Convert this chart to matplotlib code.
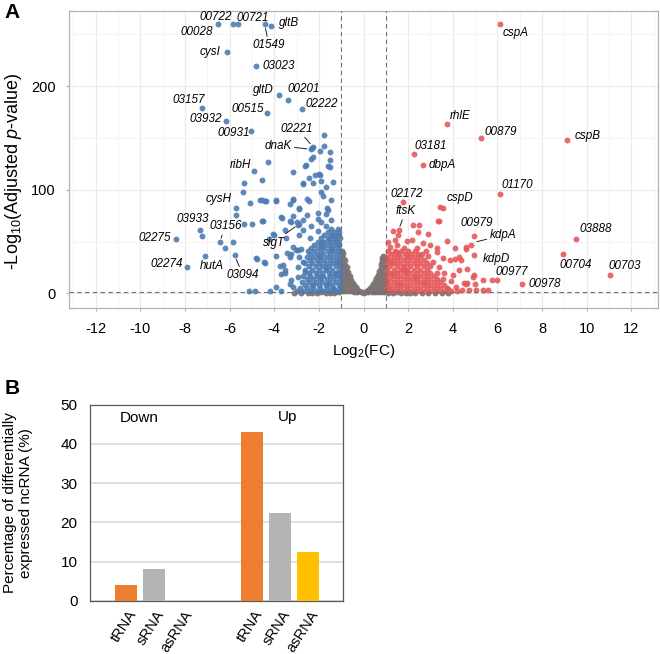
import numpy as np
import matplotlib
matplotlib.use('Agg')
import matplotlib.pyplot as plt
import matplotlib.transforms as mtransforms
from matplotlib.ticker import MultipleLocator

plt.rcParams['font.family'] = ['Liberation Sans', 'DejaVu Sans']
plt.rcParams['mathtext.fontset'] = 'custom'
plt.rcParams['mathtext.rm'] = 'Liberation Sans'
plt.rcParams['mathtext.it'] = 'Liberation Sans:italic'
plt.rcParams['mathtext.bf'] = 'Liberation Sans:bold'
plt.rcParams['axes.unicode_minus'] = False

# ---------------- Panel A data (log2FC, -log10 adj p) ----------------
down_pts = [
    (-6.52, 259.6), (-5.85, 259.6), (-5.63, 259.6), (-4.43, 259.6), (-4.13, 258.3),
    (-6.12, 233), (-4.8, 219), (-3.79, 191), (-3.39, 187), (-2.76, 178), (-7.24, 179),
    (-4.31, 174), (-6.15, 166.5), (-5.06, 156.5), (-2.31, 140), (-2.27, 141.5), (-1.75, 153),
    (-5.36, 107), (-5.39, 98), (-4.91, 118), (-4.27, 127), (-5.73, 82), (-5.72, 76),
    (-5.07, 87), (-4.57, 90), (-4.39, 89), (-3.93, 90), (-4.55, 109), (-3.69, 74),
    (-3.17, 90), (-2.87, 82), (-2.72, 107), (-2.27, 107),
    (-7.34, 61.5), (-7.24, 55), (-6.45, 49.6), (-6.19, 44), (-5.85, 49.6), (-5.36, 66.7),
    (-4.98, 67.3), (-4.51, 69.6), (-4.24, 52.5), (-4.03, 56.7), (-3.51, 60.9), (-3.26, 68.9),
    (-3.17, 74.4), (-2.97, 68.9), (-8.39, 52.5), (-7.93, 25.4), (-7.09, 36), (-5.78, 36.7),
    (-4.76, 33.5), (-4.46, 30.3), (-3.91, 35.7), (-3.61, 27), (-3.51, 22.2), (-3.31, 35.1),
    (-3.17, 44.7), (-2.94, 42.2), (-2.91, 66.7),
    (-5.13, 2.5), (-4.88, 2.5), (-4.21, 2), (-3.91, 6), (-3.69, 2), (-3.17, 6),
    (-3.17, 116.9), (-2.6, 123), (-2.27, 131.7), (-1.97, 137.2), (-2.34, 130), (-2.19, 114),
    (-1.75, 142.3), (-1.52, 136.5), (-1.52, 128.5), (-1.52, 122), (-1.97, 114),
    (-1.67, 102.7), (-1.37, 107.5), (-2.34, 139.8), (-1.57, 123), (-2.57, 123.7),
    (-2.0, 115.6), (-2.45, 111.8), (-1.89, 108.2), (-2.69, 106), (-1.89, 97.9), (-1.82, 93.7),
    (-1.45, 89.9), (-2.54, 90.8), (-2.45, 89.2), (-3.17, 91.1), (-3.91, 89.2), (-4.66, 89.9),
    (-4.43, 89.2), (-1.64, 82.8), (-1.57, 80.9), (-3.31, 86), (-2.9, 81.8), (-2.05, 77.6),
    (-1.7, 76.3), (-2.52, 76), (-3.67, 72.8), (-3.31, 69.9), (-2.72, 70.5), (-2.05, 72.2),
    (-1.89, 68.9), (-1.45, 70.5), (-4.54, 69.6), (-2.94, 65.7), (-2.34, 64.7), (-1.7, 64.7),
    (-2.72, 61.5), (-2.05, 59.9), (-4.06, 57), (-2.87, 56.7), (-1.37, 56), (-1.15, 56),
    (-2.42, 53.8), (-3.46, 53.1), (-1.25, 51.2), (-1.85, 49.6),
    (-2.79, 42.5), (-3.01, 42.2), (-3.24, 38.3), (-3.42, 39.3), (-4.81, 34.5), (-4.43, 29.6),
    (-3.76, 26.4), (-3.54, 20), (-3.69, 19), (-3.24, 13.2), (-3.31, 9.4), (-2.94, 15.8),
    (-2.64, 20.6), (-2.94, 25.4), (-2.72, 30.3), (-2.87, 35.1),
    # dense cloud
    (-1.45, 62), (-1.15, 62), (-1.6, 59), (-1.3, 59), (-1.08, 59),
    (-1.75, 56), (-1.45, 56), (-1.2, 56), (-1.9, 53), (-1.6, 53), (-1.3, 53), (-1.05, 53),
    (-2.05, 50), (-1.75, 50), (-1.45, 50), (-1.15, 50),
    (-2.2, 47), (-1.9, 47), (-1.6, 47), (-1.3, 47), (-1.08, 47),
    (-2.35, 44), (-2.05, 44), (-1.75, 44), (-1.45, 44), (-1.15, 44),
    (-2.5, 41), (-2.2, 41), (-1.9, 41), (-1.6, 41), (-1.3, 41), (-1.05, 41),
    (-2.4, 38), (-2.1, 38), (-1.8, 38), (-1.5, 38), (-1.2, 38),
    (-2.55, 35), (-2.25, 35), (-1.95, 35), (-1.65, 35), (-1.35, 35), (-1.08, 35),
    (-2.4, 32), (-2.1, 32), (-1.8, 32), (-1.5, 32), (-1.2, 32),
    (-2.6, 29), (-2.3, 29), (-2.0, 29), (-1.7, 29), (-1.4, 29), (-1.1, 29),
    (-2.45, 26), (-2.15, 26), (-1.85, 26), (-1.55, 26), (-1.25, 26), (-1.03, 26),
    (-2.6, 23), (-2.3, 23), (-2.0, 23), (-1.7, 23), (-1.4, 23), (-1.12, 23),
    (-2.45, 20), (-2.15, 20), (-1.85, 20), (-1.55, 20), (-1.25, 20), (-1.03, 20),
    (-2.7, 17), (-2.4, 17), (-2.1, 17), (-1.8, 17), (-1.5, 17), (-1.2, 17),
    (-2.55, 14), (-2.25, 14), (-1.95, 14), (-1.65, 14), (-1.35, 14), (-1.06, 14),
    (-2.75, 11), (-2.45, 11), (-2.15, 11), (-1.85, 11), (-1.55, 11), (-1.25, 11),
    (-2.6, 8), (-2.3, 8), (-2.0, 8), (-1.7, 8), (-1.4, 8), (-1.1, 8),
    (-2.85, 5), (-2.55, 5), (-2.25, 5), (-1.95, 5), (-1.65, 5), (-1.35, 5), (-1.05, 5),
    (-3.0, 2.5), (-2.7, 2.5), (-2.4, 2.5), (-2.1, 2.5), (-1.8, 2.5), (-1.5, 2.5), (-1.2, 2.5),
    (-1.3, 3.8), (-1.62, 9.5), (-1.92, 15.5), (-1.28, 18.5), (-1.7, 24.5), (-1.22, 30.5),
    (-1.98, 36.5), (-1.4, 42.5), (-1.88, 45.5), (-1.2, 48.5), (-1.55, 51.5), (-2.25, 8.5),
]

up_pts = [
    (6.1, 259.6), (3.75, 163.6), (5.27, 149.8), (9.14, 148), (2.28, 134.6), (2.67, 124),
    (6.12, 96.3), (1.76, 88), (3.55, 82.8), (3.36, 70.2), (4.94, 55), (4.82, 47),
    (4.6, 43.2), (4.94, 36.7), (4.3, 35.1), (4.08, 33.5), (9.54, 52.5), (8.93, 38.3),
    (11.05, 17.4), (7.1, 9), (5.99, 13.2), (5.76, 12.6), (5.34, 13.2), (4.97, 17.4),
    (4.6, 9.4), (4.65, 10.5), (4.15, 6.1), (5.34, 2.9), (5.05, 2.9), (4.4, 3),
    (3.43, 83.4), (3.37, 69.6), (1.57, 60.9), (1.31, 59.9), (1.54, 56.7), (2.21, 66.4),
    (2.51, 66.4), (2.43, 59.2), (2.88, 57.7), (3.73, 50.2), (4.12, 44.2), (4.6, 44.7),
    (1.94, 50.2), (2.16, 51.9), (2.66, 48.6), (2.96, 46.4), (3.28, 43.8), (3.55, 34.5),
    (3.88, 31.9), (4.37, 32.6), (4.3, 22.2), (4.63, 23.2), (4.0, 17.4), (4.52, 10),
    (3.55, 14.2), (3.78, 4.5), (4.9, 15.8), (5.02, 9.4), (4.75, 2.9), (5.6, 3.5),
    (1.2, 45), (1.5, 47), (1.8, 44), (2.4, 44), (1.1, 50), (1.4, 52), (2.6, 38),
    (2.9, 36), (3.1, 30), (3.4, 25), (3.6, 20), (3.9, 12), (3.3, 40), (2.8, 41),
    # dense cloud
    (1.1, 41), (1.4, 41), (1.7, 41), (2.0, 41), (2.3, 41),
    (1.25, 38), (1.55, 38), (1.85, 38), (2.15, 38), (2.45, 38),
    (1.05, 35), (1.35, 35), (1.65, 35), (1.95, 35), (2.25, 35), (2.55, 35),
    (1.2, 32), (1.5, 32), (1.8, 32), (2.1, 32), (2.4, 32), (2.7, 32),
    (1.05, 29), (1.35, 29), (1.65, 29), (1.95, 29), (2.25, 29), (2.55, 29), (2.85, 29),
    (1.2, 26), (1.5, 26), (1.8, 26), (2.1, 26), (2.4, 26), (2.7, 26), (3.0, 26),
    (1.05, 23), (1.35, 23), (1.65, 23), (1.95, 23), (2.25, 23), (2.55, 23), (2.85, 23),
    (1.2, 20), (1.5, 20), (1.8, 20), (2.1, 20), (2.4, 20), (2.7, 20), (3.0, 20), (3.3, 20),
    (1.05, 17), (1.35, 17), (1.65, 17), (1.95, 17), (2.25, 17), (2.55, 17), (2.85, 17), (3.15, 17),
    (1.2, 14), (1.5, 14), (1.8, 14), (2.1, 14), (2.4, 14), (2.7, 14), (3.0, 14), (3.3, 14),
    (1.05, 11), (1.35, 11), (1.65, 11), (1.95, 11), (2.25, 11), (2.55, 11), (2.85, 11), (3.15, 11), (3.45, 11),
    (1.2, 8), (1.5, 8), (1.8, 8), (2.1, 8), (2.4, 8), (2.7, 8), (3.0, 8), (3.3, 8), (3.6, 8),
    (1.05, 5), (1.35, 5), (1.65, 5), (1.95, 5), (2.25, 5), (2.55, 5), (2.85, 5), (3.15, 5), (3.45, 5), (3.75, 5),
    (1.2, 2.5), (1.5, 2.5), (1.8, 2.5), (2.1, 2.5), (2.4, 2.5), (2.7, 2.5), (3.0, 2.5), (3.3, 2.5),
    (3.6, 2.5), (3.9, 2.5), (4.2, 2.5),
    (1.15, 3.8), (1.62, 9.5), (2.3, 15.5), (1.28, 18.5), (1.75, 24.5), (1.22, 30.5),
    (2.0, 36.5), (1.45, 39.5), (2.7, 10), (1.9, 21.5),
]

ns_pts = [
    (-0.97, 2), (-0.97, 7), (-0.97, 12), (-0.97, 17), (-0.97, 22), (-0.97, 27), (-0.97, 32), (-0.97, 37), (-0.95, 41),
    (-0.9, 4), (-0.9, 9), (-0.9, 14), (-0.9, 19), (-0.9, 24), (-0.9, 29), (-0.9, 34), (-0.9, 39),
    (-0.83, 2), (-0.83, 7), (-0.83, 12), (-0.83, 17), (-0.83, 22), (-0.83, 27), (-0.83, 32),
    (-0.76, 4), (-0.76, 9), (-0.76, 14), (-0.76, 19), (-0.76, 25),
    (-0.69, 2), (-0.69, 7), (-0.69, 12), (-0.69, 17), (-0.69, 21),
    (-0.62, 4), (-0.62, 9), (-0.62, 14), (-0.62, 17),
    (-0.55, 2), (-0.55, 6), (-0.55, 10), (-0.55, 13),
    (-0.48, 3), (-0.48, 7), (-0.48, 10), (-0.41, 1.5), (-0.41, 5), (-0.41, 8),
    (-0.34, 3), (-0.34, 6), (-0.27, 1.5), (-0.27, 4), (-0.2, 2.5), (-0.13, 1.5), (-0.06, 1), (0.0, 0.5),
    (0.08, 1.2), (0.15, 2), (0.22, 1.5), (0.22, 3.5), (0.29, 2), (0.29, 5),
    (0.36, 1.5), (0.36, 4.5), (0.36, 7), (0.43, 2), (0.43, 6), (0.43, 9),
    (0.5, 1.5), (0.5, 5), (0.5, 9), (0.5, 12), (0.57, 3), (0.57, 7), (0.57, 11), (0.57, 15),
    (0.64, 1.5), (0.64, 5), (0.64, 9), (0.64, 13), (0.64, 18),
    (0.71, 3), (0.71, 7), (0.71, 11), (0.71, 15), (0.71, 19), (0.71, 22),
    (0.78, 1.5), (0.78, 5), (0.78, 9), (0.78, 13), (0.78, 17), (0.78, 21), (0.78, 25), (0.78, 28),
    (0.85, 3), (0.85, 7), (0.85, 11), (0.85, 15), (0.85, 19), (0.85, 23), (0.85, 27), (0.85, 31), (0.85, 34),
    (0.92, 1.5), (0.92, 5), (0.92, 9), (0.92, 13), (0.92, 17), (0.92, 21), (0.92, 25), (0.92, 29), (0.9, 33), (0.88, 36),
    (0.98, 3), (0.98, 7), (0.98, 11), (0.98, 15), (0.98, 19), (0.98, 23), (0.98, 27), (0.98, 31), (0.98, 35),
    (-3.1, 0.4), (-2.8, 0.7), (-2.5, 0.3), (-2.3, 0.8), (-2.1, 0.5), (-1.9, 0.9), (-1.7, 0.4),
    (-1.5, 0.8), (-1.3, 0.5), (-1.1, 0.9), (1.1, 0.8), (1.3, 0.4), (1.5, 0.9), (1.7, 0.5),
    (1.9, 0.8), (2.1, 0.3), (2.3, 0.7), (2.6, 0.5), (2.9, 0.8), (3.2, 0.4), (3.5, 0.6), (3.8, 0.3),
]

label_names = ['00722', '00028', '00721', 'gltB', '01549', 'cysI', '03023', 'gltD', '00201',
               '02222', '03157', '00515', '03932', '00931', '02221', 'dnaK', 'ribH', 'cysH',
               '03933', '03156', '02275', '02274', 'hutA', '03094', 'sigT',
               'cspA', 'rhlE', '00879', 'cspB', '03181', 'dbpA', '01170', '02172', 'cspD',
               'ftsK', '00979', 'kdpA', '03888', 'kdpD', '00977', '00704', '00703', '00978']
label_px = [-6.52, -5.85, -5.63, -4.13, -4.43, -6.12, -4.8, -3.79, -3.39, -2.76, -7.24, -4.31,
            -6.15, -5.06, -2.27, -2.35, -4.91, -5.72, -7.34, -6.45, -8.39, -7.93, -7.09, -5.78,
            -2.91, 6.1, 3.75, 5.27, 9.14, 2.28, 2.67, 6.12, 1.76, 3.55, 1.57, 4.94, 4.9, 9.54,
            4.94, 5.99, 8.93, 11.05, 7.1]
label_py = [259.6, 259.6, 259.6, 258.3, 259.6, 233, 219, 191, 187, 178, 179, 174, 166.5, 156.5,
            141.5, 139, 118, 76, 61.5, 49.6, 52.5, 25.4, 36, 36.7, 66.7, 259.6, 163.6, 149.8,
            148, 134.6, 124, 96.3, 88, 82.8, 60.9, 55, 49, 52.5, 36.7, 13.2, 38.3, 17.4, 9]
label_tx = [-6.63, -7.49, -4.96, -3.34, -4.24, -6.87, -3.82, -4.5, -2.69, -1.89, -7.84, -5.18,
            -7.09, -5.8, -2.97, -3.83, -5.52, -6.49, -7.67, -6.19, -9.36, -8.84, -6.79, -5.4,
            -4.03, 6.84, 4.34, 6.13, 10.04, 3.03, 3.55, 6.9, 1.94, 4.31, 1.88, 5.07, 6.24, 10.39,
            5.94, 6.63, 9.5, 11.73, 8.12]
label_ty = [267, 252.5, 266, 260.5, 239.6, 233, 219, 196, 196.8, 183, 187, 178, 168, 154.3,
            159, 142.7, 124.3, 91.5, 71.5, 64.7, 53.8, 28.3, 26.4, 17.4, 49, 251.5, 171.3,
            156.2, 151.7, 142, 124, 104.3, 95.6, 92, 79.5, 68, 56, 61.8, 33.2, 20.6, 27.7, 26.4, 9]
label_lines = {'01549', '02221', 'dnaK', '03156', '03094', 'sigT', 'ftsK', 'kdpA'}

fc_cut = 1.0
p_cut = -np.log10(0.05)

# ---------------- Panel B data ----------------
rna_types = ['tRNA', 'sRNA', 'asRNA']
pct_down = [3.9, 8.2, 0.0]
pct_up = [43.1, 22.3, 12.5]
bar_colors = ['#ED7D31', '#B4B4B4', '#FFC000']

# ---------------- Figure ----------------
W, H = 660, 654
fig = plt.figure(figsize=(W / 100, H / 100), dpi=100)

# Panel A
axA = fig.add_axes([69 / W, 1 - 307.7 / H, (658 - 69) / W, (307.7 - 11) / H])
grid_c = '#EBEBEB'
axA.set_xlim(-13.2, 13.2)
axA.set_ylim(-13.8, 272.5)
axA.xaxis.set_major_locator(MultipleLocator(2))
axA.xaxis.set_minor_locator(MultipleLocator(1))
axA.set_yticks([0, 100, 200])
axA.set_yticks([50, 150, 250], minor=True)
axA.grid(True, which='major', color=grid_c, lw=0.9, zorder=0)
axA.grid(True, which='minor', color='#F3F3F3', lw=0.6, zorder=0)
axA.set_axisbelow(True)
for s in axA.spines.values():
    s.set_color('#B3B3B3')
    s.set_linewidth(0.9)
axA.tick_params(which='major', length=2.5, color='#B3B3B3', labelsize=10.5, pad=7)
axA.tick_params(which='minor', length=0)
axA.tick_params(axis='x', pad=8)

nx, ny = zip(*ns_pts)
dx, dy = zip(*down_pts)
ux, uy = zip(*up_pts)
ms = 18
axA.scatter(nx, ny, s=ms, c='#7E7474', alpha=0.95, lw=0, zorder=2)
axA.scatter(dx, dy, s=ms, c='#4E7CB3', alpha=0.9, lw=0, zorder=3)
axA.scatter(ux, uy, s=ms, c='#E5595C', alpha=0.9, lw=0, zorder=3)

dash = dict(color='#6E6E6E', lw=0.8, linestyle=(0, (4, 3)), zorder=4)
axA.axvline(-fc_cut, **dash)
axA.axvline(fc_cut, **dash)
axA.axhline(p_cut, **dash)

for name, px, py, tx, ty in zip(label_names, label_px, label_py, label_tx, label_ty):
    kw = dict(xy=(px, py), xytext=(tx, ty), textcoords='data', fontsize=8.4,
              style='italic', ha='center', va='center', zorder=5)
    if name in label_lines:
        kw['arrowprops'] = dict(arrowstyle='-', color='#222222', lw=0.7,
                                shrinkA=0, shrinkB=3)
    axA.annotate(name, **kw)

axA.set_xlabel('Log$_{2}$(FC)', fontsize=11, labelpad=4)
axA.set_ylabel('-Log$_{10}$(Adjusted $p$-value)', fontsize=13, va='center')
axA.yaxis.set_label_coords(-0.094, 0.46)
fig.text(4 / W, 1 - 12 / H, 'A', fontsize=15, fontweight='bold', va='center', ha='left')

# Panel B
axB = fig.add_axes([90 / W, 1 - 600.8 / H, (343 - 90) / W, (600.8 - 404.6) / H])
pos_down = np.arange(len(rna_types))
pos_up = pos_down + 4.5
axB.bar(pos_down, pct_down, width=0.79, color=bar_colors, zorder=3)
axB.bar(pos_up, pct_up, width=0.79, color=bar_colors, zorder=3)
axB.set_xlim(-1.29, 7.75)
axB.set_ylim(0, 50)
axB.set_yticks(np.arange(0, 51, 10))
axB.yaxis.grid(True, color='#D9D9D9', lw=1.2, zorder=0)
axB.set_axisbelow(True)
for s in axB.spines.values():
    s.set_color('#595959')
    s.set_linewidth(0.9)
axB.tick_params(axis='y', length=0, labelsize=11, pad=9)
axB.tick_params(axis='x', length=0, labelsize=10.5, pad=2)
axB.set_xticks(np.concatenate([pos_down, pos_up]))
axB.set_xticklabels(rna_types + rna_types, rotation=57, ha='right', va='center',
                    rotation_mode='anchor')
off = mtransforms.ScaledTranslation(7 / 100, -8 / 100, fig.dpi_scale_trans)
for lab in axB.get_xticklabels():
    lab.set_transform(lab.get_transform() + off)
axB.text(pos_down[1] - 0.52, 46.6, 'Down', fontsize=11, ha='center', va='center')
axB.text(pos_up[1] + 0.26, 46.8, 'Up', fontsize=11, ha='center', va='center')
axB.set_ylabel('Percentage of differentially\nexpressed ncRNA (%)', fontsize=11, labelpad=20)
fig.text(5 / W, 1 - 388 / H, 'B', fontsize=15, fontweight='bold', va='center', ha='left')

fig.savefig('out.png', dpi=100)
